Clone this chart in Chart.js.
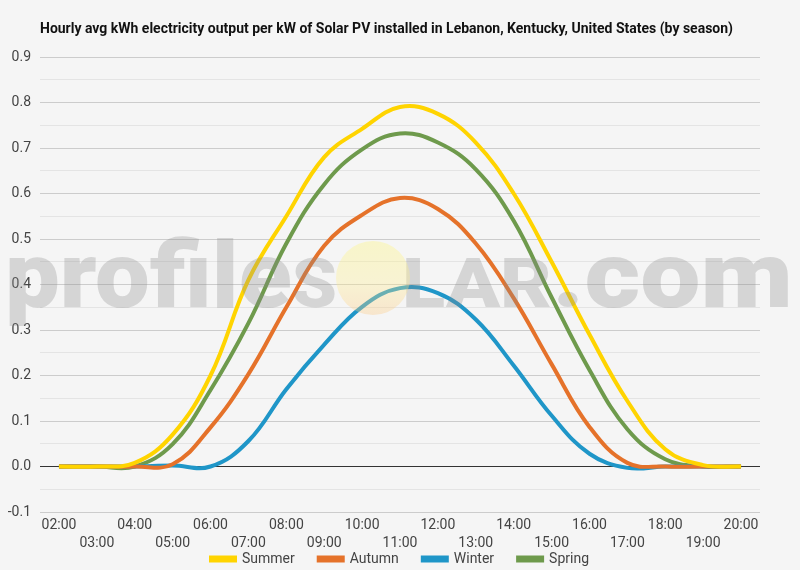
<!DOCTYPE html>
<html>
<head>
<meta charset="utf-8">
<script src="https://cdn.jsdelivr.net/npm/chart.js@4.4.1/dist/chart.umd.min.js"></script>
<style>
  html, body { margin: 0; padding: 0; background: #f5f5f5; }
  #wrap { width: 800px; height: 570px; }
</style>
</head>
<body>
<div id="wrap"><canvas id="c" width="800" height="570"></canvas></div>
<script>
const TITLE = 'Hourly avg kWh electricity output per kW of Solar PV installed in Lebanon, Kentucky, United States (by season)';
const hours = ['02:00','03:00','04:00','05:00','06:00','07:00','08:00','09:00','10:00','11:00','12:00','13:00','14:00','15:00','16:00','17:00','18:00','19:00','20:00'];
const summer = [0, 0, 0.008, 0.07, 0.2, 0.41, 0.55, 0.68, 0.742, 0.79, 0.775, 0.712, 0.6, 0.45, 0.29, 0.144, 0.038, 0.003, 0];
const autumn = [0, 0, 0, 0.005, 0.086, 0.203, 0.35, 0.485, 0.553, 0.59, 0.566, 0.49, 0.37, 0.225, 0.087, 0.008, 0, 0, 0];
const winter = [0, 0, 0, 0.002, 0, 0.056, 0.17, 0.268, 0.351, 0.392, 0.381, 0.323, 0.222, 0.112, 0.028, -0.003, 0, 0, 0];
const spring = [0, 0, 0, 0.049, 0.168, 0.315, 0.49, 0.62, 0.697, 0.732, 0.712, 0.653, 0.54, 0.372, 0.212, 0.082, 0.016, 0, 0];
const seriesNames = ['Summer', 'Autumn', 'Winter', 'Spring'];
const seriesColors = ['#FFD400', '#E5722A', '#1F96C8', '#6E9A4C'];
const yTicks = [-0.1, 0, 0.1, 0.2, 0.3, 0.4, 0.5, 0.6, 0.7, 0.8, 0.9];

Chart.defaults.font.family = 'Roboto';

const bgPlugin = {
  id: 'bg',
  beforeDraw(chart) {
    const ctx = chart.ctx;
    ctx.save();
    ctx.fillStyle = '#f5f5f5';
    ctx.fillRect(0, 0, chart.width, chart.height);
    ctx.restore();
  }
};

// move legend up into the space under the staggered tick labels, centred on the full canvas
const legendPlacePlugin = {
  id: 'legendPlace',
  afterLayout(chart) {
    const L = chart.legend;
    if (!L) return;
    const dy = L.options.labels.padding - 2;
    L.top -= dy; L.bottom -= dy;
    L.left = 0; L.right = chart.width; L.width = chart.width;
  }
};

const titlePlugin = {
  id: 'customTitle',
  afterDraw(chart) {
    const ctx = chart.ctx;
    ctx.save();
    ctx.font = 'bold 15px Roboto';
    ctx.fillStyle = '#111111';
    ctx.textBaseline = 'alphabetic';
    const w = ctx.measureText(TITLE).width;
    ctx.translate(chart.chartArea.left, 33);
    ctx.scale(693 / w, 1);
    ctx.fillText(TITLE, 0, 0);
    ctx.restore();
  }
};

const watermarkPlugin = {
  id: 'watermark',
  afterDatasetsDraw(chart) {
    const ctx = chart.ctx;
    const base = 307;
    const big = '900 93px Roboto';
    const small = '900 69px Roboto';
    ctx.save();
    ctx.fillStyle = 'rgba(140,140,140,0.3)';
    ctx.textBaseline = 'alphabetic';
    ctx.font = big; const w1 = ctx.measureText('profile').width;
    ctx.font = small; const w2 = ctx.measureText('S').width;
    let sx = (337 - 5) / (w1 + w2);
    ctx.save();
    ctx.translate(5, base); ctx.scale(sx, 1);
    ctx.font = big; ctx.fillText('profile', 0, 0);
    ctx.font = small; ctx.fillText('S', w1, 0);
    ctx.restore();
    ctx.font = small; const w3 = ctx.measureText('LAR').width;
    ctx.font = big; const w4 = ctx.measureText('.com').width;
    sx = (793 - 402) / (w3 + w4);
    ctx.save();
    ctx.translate(402, base); ctx.scale(sx, 1);
    ctx.font = small; ctx.fillText('LAR', 0, 0);
    ctx.font = big; ctx.fillText('.com', w3, 0);
    ctx.restore();
    const g = ctx.createLinearGradient(0, 241, 0, 315);
    g.addColorStop(0, 'rgba(255,245,120,0.35)');
    g.addColorStop(0.55, 'rgba(255,238,140,0.33)');
    g.addColorStop(1, 'rgba(252,200,130,0.35)');
    ctx.fillStyle = g;
    ctx.beginPath();
    ctx.arc(373, 278, 37, 0, Math.PI * 2);
    ctx.fill();
    ctx.restore();
  }
};

const datasets = [summer, autumn, winter, spring].map((d, i) => ({
  label: seriesNames[i],
  data: d,
  borderColor: seriesColors[i],
  backgroundColor: seriesColors[i],
  borderWidth: 4,
  pointRadius: 0,
  pointHoverRadius: 0,
  tension: 0.4,
  fill: false
}));

new Chart(document.getElementById('c'), {
  type: 'line',
  data: { labels: hours, datasets },
  plugins: [bgPlugin, legendPlacePlugin, watermarkPlugin, titlePlugin],
  options: {
    responsive: false,
    animation: false,
    devicePixelRatio: 1,
    layout: { padding: { top: 57, right: 40, left: 0, bottom: -28 } },
    plugins: {
      title: { display: false },
      tooltip: { enabled: false },
      legend: {
        position: 'bottom',
        align: 'center',
        labels: {
          boxWidth: 24,
          boxHeight: 3,
          padding: 24,
          color: '#444444',
          font: { size: 14, family: 'Roboto' }
        }
      }
    },
    scales: {
      x: {
        offset: true,
        grid: { display: false, drawTicks: false },
        border: { display: false },
        afterFit: (s) => { s.height = 38; },
        ticks: {
          autoSkip: false,
          maxRotation: 0,
          minRotation: 0,
          padding: 4,
          color: '#444444',
          font: { size: 14, family: 'Roboto', lineHeight: 1.3 },
          callback: (v, i) => (i % 2 ? ['', hours[i]] : hours[i])
        }
      },
      y: {
        min: yTicks[0],
        max: yTicks[yTicks.length - 1],
        afterFit: (s) => { s.width = 40; },
        border: { display: false },
        grid: {
          drawTicks: false,
          lineWidth: 1,
          color: (c) => {
            const v = c.tick ? Math.round(c.tick.value * 100) : 10;
            if (v === 0) return '#333333';
            return (v % 10 === 0) ? '#cccccc' : '#e4e4e4';
          }
        },
        ticks: {
          stepSize: 0.05,
          padding: 9,
          color: '#444444',
          font: { size: 14, family: 'Roboto' },
          callback: (v) => {
            const r = Math.round(v * 100);
            return (r % 10 === 0) ? (r / 100).toFixed(1) : '';
          }
        }
      }
    }
  }
});
</script>
</body>
</html>
